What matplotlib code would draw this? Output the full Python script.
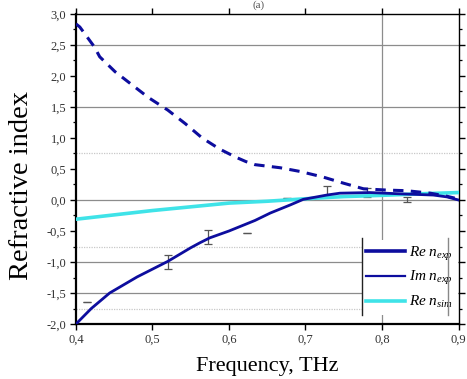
import numpy as np
import matplotlib
matplotlib.use("Agg")
import matplotlib.pyplot as plt
from matplotlib.ticker import MultipleLocator, FuncFormatter
from matplotlib.lines import Line2D

plt.rcParams["font.family"] = ["Liberation Serif", "DejaVu Serif"]
plt.rcParams["mathtext.fontset"] = "custom"
plt.rcParams["mathtext.it"] = "Liberation Serif:italic"
plt.rcParams["mathtext.rm"] = "Liberation Serif"

# Real part of the measured refractive index
re_exp_f = [0.400, 0.420, 0.444, 0.480, 0.520, 0.550, 0.562, 0.575, 0.600, 0.614,
            0.634, 0.654, 0.680, 0.697, 0.728, 0.745, 0.784, 0.823, 0.867, 0.885, 0.900]
re_exp_n = [-2.00, -1.75, -1.50, -1.24, -0.99, -0.77, -0.69, -0.61, -0.50, -0.43,
            -0.33, -0.21, -0.08, 0.01, 0.08, 0.11, 0.12, 0.10, 0.08, 0.05, 0.00]

# Imaginary part of the measured refractive index
im_exp_f = [0.400, 0.405, 0.424, 0.431, 0.451, 0.474, 0.495, 0.520, 0.543, 0.565,
            0.588, 0.609, 0.622, 0.634, 0.667, 0.693, 0.723, 0.750, 0.776, 0.806,
            0.832, 0.863, 0.885, 0.895]
im_exp_n = [2.84, 2.79, 2.47, 2.31, 2.07, 1.85, 1.65, 1.45, 1.23, 1.00,
            0.82, 0.69, 0.62, 0.57, 0.52, 0.46, 0.37, 0.27, 0.18, 0.16,
            0.15, 0.11, 0.06, 0.03]

# Real part of the simulated refractive index
re_sim_f = [0.40, 0.45, 0.50, 0.55, 0.60, 0.65, 0.70, 0.75, 0.80, 0.85, 0.90]
re_sim_n = [-0.31, -0.24, -0.17, -0.11, -0.05, -0.02, 0.02, 0.055, 0.075, 0.10, 0.12]

# Measurement uncertainty
err_f = [0.415, 0.520, 0.573, 0.624, 0.676, 0.728, 0.781, 0.833]
err_n = [-1.64, -1.00, -0.60, -0.54, 0.03, 0.14, 0.12, 0.005]
err_half = [0.0, 0.12, 0.115, 0.0, 0.0, 0.09, 0.07, 0.045]

labels = [r"$Re\ n_{exp}$", r"$Im\ n_{exp}$", r"$Re\ n_{sim}$"]

dark_blue = "#0d0d9e"
cyan = "#3fe3e8"

fig = plt.figure(figsize=(4.67, 3.79), dpi=100)
ax = fig.add_axes([0.1627, 0.1451, 0.8191, 0.818])

# reference levels
for lvl in [2.5, 1.5, 0.0, -1.0, -1.5]:
    ax.axhline(lvl, color="#8c8c8c", lw=0.9, zorder=0)
for lvl in [0.75, -0.75, -1.75]:
    ax.axhline(lvl, color="#c8c8c8", lw=0.9, ls=(0, (1, 1)), zorder=0)
ax.axvline(0.8, color="#8c8c8c", lw=0.9, zorder=0)

ax.errorbar(err_f, err_n, yerr=err_half, fmt="none", ecolor="#555555",
            elinewidth=0.9, capsize=3, capthick=0.9, zorder=2)

ax.plot(re_sim_f, re_sim_n, color=cyan, lw=2.6, zorder=3)
im_line, = ax.plot(im_exp_f, im_exp_n, color=dark_blue, lw=2.2, zorder=4)
im_line.set_dashes([3.4, 2.4])
ax.plot(re_exp_f, re_exp_n, color=dark_blue, lw=2.0, zorder=5)

ax.set_xlim(0.4, 0.9)
ax.set_ylim(-2.0, 3.0)

comma = FuncFormatter(lambda v, p: f"{v:.1f}".replace(".", ",").replace("−", "-"))
ax.xaxis.set_major_locator(MultipleLocator(0.1))
ax.yaxis.set_major_locator(MultipleLocator(0.5))
ax.yaxis.set_minor_locator(MultipleLocator(0.25))
ax.xaxis.set_major_formatter(comma)
ax.yaxis.set_major_formatter(comma)

ax.tick_params(axis="both", which="both", direction="out", top=True, right=True,
               labelsize=9, labelcolor="#333333", pad=3)
ax.tick_params(axis="both", which="major", length=4, width=1.0)
ax.tick_params(axis="y", which="minor", length=2.5, width=0.9)
for side in ["left", "bottom"]:
    ax.spines[side].set_linewidth(1.6)
for side in ["top", "right"]:
    ax.spines[side].set_linewidth(1.0)

ax.set_xlabel("Frequency, THz", fontsize=16, labelpad=8)
ax.set_ylabel("Refractive index", fontsize=20.5)
ax.yaxis.set_label_coords(-0.11, 0.448)

handles = [Line2D([], [], color=dark_blue, lw=2.6),
           Line2D([], [], color=dark_blue, lw=1.6),
           Line2D([], [], color=cyan, lw=2.6)]
leg = ax.legend(handles, labels, loc="lower left", bbox_to_anchor=(0.747, 0.029),
                borderaxespad=0, frameon=True, fancybox=False, fontsize=11,
                handlelength=2.5, handletextpad=0.3, labelspacing=0.45,
                borderpad=0.3)
leg.get_frame().set_facecolor("white")
leg.get_frame().set_edgecolor("none")
leg.get_frame().set_alpha(1)
leg.set_zorder(10)

for xv, col in [(0.747, "#222222"), (0.972, "#888888")]:
    ax.add_line(Line2D([xv, xv], [0.029, 0.277], transform=ax.transAxes,
                       color=col, lw=1.0, zorder=11, clip_on=False))

fig.text(0.553, 0.998, "(a)", ha="center", va="top", fontsize=8,
         color="#555555")

fig.savefig("out.png", dpi=100)
